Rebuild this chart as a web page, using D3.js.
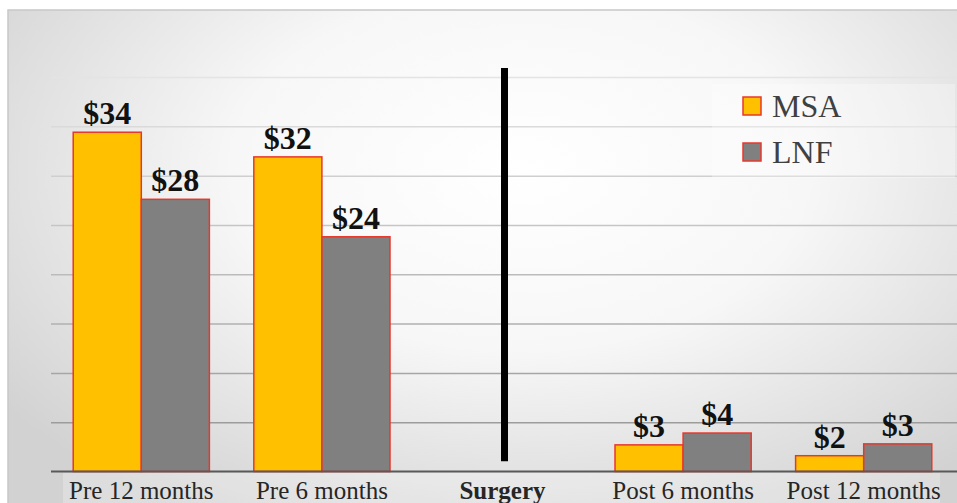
<!DOCTYPE html>
<html><head><meta charset="utf-8">
<script src="https://cdn.jsdelivr.net/npm/d3@7"></script>
<style>
html,body{margin:0;padding:0;background:#fff;}
svg{display:block;}
</style></head>
<body>
<svg id="chart" width="957" height="503"></svg>
<script>
const categories = ["Pre 12 months", "Pre 6 months", "Surgery", "Post 6 months", "Post 12 months"];
const seriesNames = ["MSA", "LNF"];
const msaValues = [34.4, 31.9, null, 2.7, 1.6];
const lnfValues = [27.6, 23.8, null, 3.9, 2.8];
const seriesColors = ["#FFC000", "#808080"];
const yTicks = [0, 5, 10, 15, 20, 25, 30, 35, 40];
const surgeryLineRange = [1.05, 40.9];

const svg = d3.select("#chart");
const W = 957, H = 503;
const plot = {left: 51, right: 954, top: 77, bottom: 471.5};

// background
const defs = svg.append("defs");
const rg = defs.append("radialGradient").attr("id", "bg")
  .attr("gradientUnits", "userSpaceOnUse")
  .attr("cx", 0).attr("cy", 0).attr("r", 1)
  .attr("gradientTransform", "translate(520,170) scale(640,400)");
rg.append("stop").attr("offset", 0).attr("stop-color", "#ffffff");
rg.append("stop").attr("offset", 0.45).attr("stop-color", "#f7f7f7");
rg.append("stop").attr("offset", 1).attr("stop-color", "#d2d2d2");

svg.append("rect").attr("x", 8).attr("y", 10).attr("width", W + 10).attr("height", H + 10)
  .attr("fill", "url(#bg)").attr("stroke", "#c8c8c8").attr("stroke-width", 1.5);

const y = d3.scaleLinear().domain([0, 40]).range([plot.bottom, plot.top]);
const x0 = d3.scaleBand().domain(categories).range([plot.left, plot.right])
  .paddingInner(0.246).paddingOuter(0.123);
const x1 = d3.scaleBand().domain(seriesNames).range([0, x0.bandwidth()]);
const color = d3.scaleOrdinal().domain(seriesNames).range(seriesColors);
const gridColor = d3.scaleLinear().domain([plot.top, y(5)]).range(["#e4e4e4", "#9c9c9c"]);

// gridlines
const yAxis = d3.axisLeft(y).tickValues(yTicks.slice(1)).tickSize(-(W - plot.left)).tickFormat("");
const gy = svg.append("g").attr("transform", `translate(${plot.left},0)`).call(yAxis);
gy.select(".domain").remove();
gy.selectAll(".tick line").attr("stroke", d => gridColor(y(d))).attr("stroke-width", 1.5)
  .attr("x1", 0).attr("x2", W - plot.left);

// legend background
svg.append("rect").attr("x", 712).attr("y", 84).attr("width", 243).attr("height", 94)
  .attr("fill", "#ffffff").attr("opacity", 0.3);

// category label background
svg.append("rect").attr("x", 63).attr("y", 473).attr("width", 877).attr("height", 30)
  .attr("fill", "#ffffff").attr("opacity", 0.25);

// bars
const rows = categories.map((c, i) => ({cat: c, vals: [
  {key: "MSA", value: msaValues[i]}, {key: "LNF", value: lnfValues[i]}]}));
const groups = svg.append("g").selectAll("g").data(rows).join("g")
  .attr("transform", d => `translate(${x0(d.cat)},0)`);
groups.selectAll("rect").data(d => d.vals.filter(v => v.value != null)).join("rect")
  .attr("x", d => x1(d.key)).attr("width", x1.bandwidth())
  .attr("y", d => y(d.value)).attr("height", d => y(0) - y(d.value))
  .attr("fill", d => color(d.key)).attr("stroke", "#e8372a").attr("stroke-width", 1.5);
const fmt = d3.format("$.0f");
groups.selectAll("text").data(d => d.vals.filter(v => v.value != null)).join("text")
  .attr("x", d => x1(d.key) + x1.bandwidth() / 2).attr("y", d => y(d.value) - 8)
  .attr("text-anchor", "middle")
  .style("font-family", "'Liberation Serif', serif").style("font-weight", "bold")
  .style("font-size", "32px").attr("fill", "#111")
  .text(d => fmt(d.value));

// baseline
svg.append("line").attr("x1", plot.left).attr("x2", W).attr("y1", y(0)).attr("y2", y(0))
  .attr("stroke", "#595959").attr("stroke-width", 2);

// surgery line
const sx = x0("Surgery") + x0.bandwidth() / 2 + 2;
svg.append("line").attr("x1", sx).attr("x2", sx)
  .attr("y1", y(surgeryLineRange[0])).attr("y2", y(surgeryLineRange[1]))
  .attr("stroke", "#000").attr("stroke-width", 7);

// x axis labels
const gx = svg.append("g").attr("transform", `translate(0,${y(0)})`)
  .call(d3.axisBottom(x0).tickSize(0).tickPadding(0));
gx.select(".domain").remove();
gx.selectAll(".tick text").attr("dy", 0).attr("y", 27)
  .style("font-family", "'Liberation Serif', serif").style("font-size", "25px")
  .attr("fill", "#262626")
  .style("font-weight", d => d === "Surgery" ? "bold" : "normal");

// legend
const lg = svg.append("g").selectAll("g").data(seriesNames).join("g")
  .attr("transform", (d, i) => `translate(743,${97 + i * 46})`);
lg.append("rect").attr("width", 18).attr("height", 18)
  .attr("fill", d => color(d)).attr("stroke", "#e8372a").attr("stroke-width", 1.5);
lg.append("text").attr("x", 29).attr("y", 20)
  .style("font-family", "'Liberation Serif', serif").style("font-size", "32px")
  .attr("fill", "#404040").text(d => d);
</script>
</body></html>
